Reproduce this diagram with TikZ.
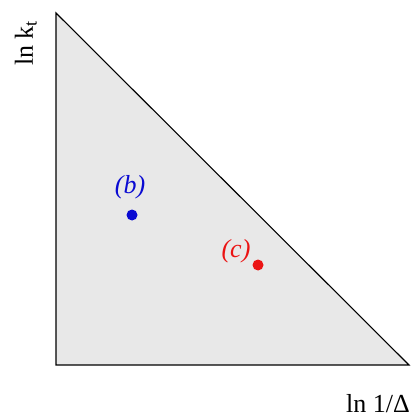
\documentclass[tikz,border=0pt]{standalone}
\usepackage{fontspec}
\setmainfont{Liberation Serif}
\definecolor{tri}{RGB}{232,232,232}
\definecolor{dotblue}{RGB}{10,10,210}
\definecolor{dotred}{RGB}{235,20,20}
\begin{document}
\begin{tikzpicture}[x=1pt,y=-1pt,
  axlabel/.style={font=\fontsize{26}{30}\selectfont, inner sep=0pt},
  ptlabel/.style={font=\fontsize{26}{30}\selectfont\itshape, inner sep=0pt},
  pt/.style={circle, inner sep=0pt, minimum size=11pt}]
\useasboundingbox (0,0) rectangle (412,419);
\coordinate (A) at (56,13);
\coordinate (B) at (56,365);
\coordinate (C) at (409,365);
\fill[tri] (A) -- (B) -- (C) -- cycle;
\draw[line width=1.1pt, line join=miter] (A) -- (B) -- (C) -- cycle;
\node[axlabel, anchor=south east] (ylab) at (37,66) {\rotatebox{90}{ln k\textsubscript{t}}};
\node[axlabel, anchor=base east] (xlab) at (410,412) {ln 1/Δ};
\node[pt, fill=dotblue] (b) at (132,215) {};
\node[ptlabel, text=dotblue, anchor=base] (blab) at (130,194) {(b)};
\node[pt, fill=dotred] (c) at (258,265) {};
\node[ptlabel, text=dotred, anchor=base] (clab) at (236,257) {(c)};
\end{tikzpicture}
\end{document}
